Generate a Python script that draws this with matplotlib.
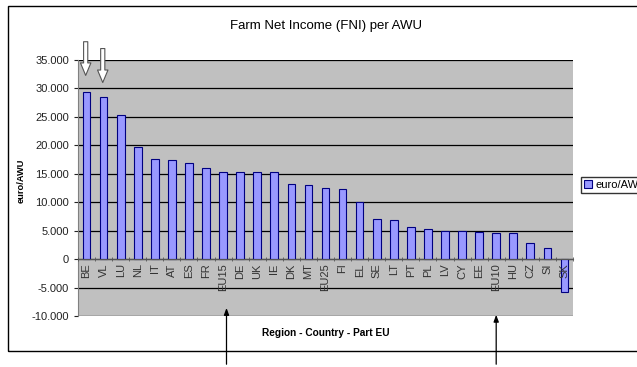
import numpy as np
import matplotlib
matplotlib.use('Agg')
import matplotlib.pyplot as plt
from matplotlib.patches import Rectangle
from matplotlib.ticker import FuncFormatter

plt.rcParams['font.family'] = ['Liberation Sans', 'DejaVu Sans']

# 数据
regions = ['BE', 'VL', 'LU', 'NL', 'IT', 'AT', 'ES', 'FR', 'EU15', 'DE', 'UK', 'IE',
           'DK', 'MT', 'EU25', 'FI', 'EL', 'SE', 'LT', 'PT', 'PL', 'LV', 'CY', 'EE',
           'EU10', 'HU', 'CZ', 'SI', 'SK']
fni = [29350, 28450, 25300, 19650, 17650, 17450, 16950, 15950, 15400, 15350, 15250, 15250,
       13200, 12950, 12450, 12400, 10100, 7000, 6800, 5600, 5250, 5000, 4950, 4750,
       4600, 4550, 2800, 1950, -5750]
# 标注箭头: 白色向下 (箭尖, 箭尾), 黑色向上 (箭尖)
arrow_down = {'BE': (31800, 38700), 'VL': (30550, 37500)}
arrow_up = {'EU15': -8100, 'EU10': -9300}

fig = plt.figure(figsize=(6.37, 3.67), dpi=100)
fig.patch.set_facecolor('white')

# 图表外框
fig.patches.append(Rectangle((8 / 637, (367 - 351) / 367), 1.0, (351 - 6) / 367,
                             transform=fig.transFigure, fill=False,
                             edgecolor='black', linewidth=1.0, zorder=0))

ax = fig.add_axes([78 / 637, (367 - 316) / 367, 495 / 637, 256 / 367])
ax.set_facecolor('#c0c0c0')

x = np.arange(len(regions))
ax.bar(x, fni, width=0.45, color='#9999ff', edgecolor='#000080',
       linewidth=0.8, zorder=3, label='euro/AWU')

ax.set_xlim(-0.5, len(regions) - 0.5)
ax.set_ylim(-10000, 35000)
ax.set_yticks(np.arange(-10000, 35001, 5000))
ax.yaxis.set_major_formatter(FuncFormatter(lambda v, p: f"{int(v):,}".replace(',', '.')))
ax.yaxis.grid(True, color='black', linewidth=0.9, zorder=1)
ax.tick_params(axis='y', labelsize=8, length=3, colors='#222222', width=0.8)

for s in ['top', 'right']:
    ax.spines[s].set_visible(False)
ax.spines['left'].set_color('#808080')
ax.spines['bottom'].set_position(('data', 0))
ax.spines['bottom'].set_color('#555555')
ax.spines['bottom'].set_zorder(4)

# x 轴刻度在类别之间，标签在 0 线下方
ax.set_xticks(x)
ax.set_xticklabels(regions, rotation=90, fontsize=8, color='#333333')
ax.tick_params(axis='x', length=0, pad=3)
ax.set_xticks(np.arange(-0.5, len(regions), 1), minor=True)
ax.tick_params(axis='x', which='minor', length=3, direction='inout', color='#555555')
ax.xaxis.set_zorder(4)

ax.set_title('Farm Net Income (FNI) per AWU', fontsize=9.5, pad=22)
ax.set_ylabel('euro/AWU', fontsize=6.7, fontweight='bold')
ax.yaxis.set_label_coords(-0.105, 0.527)
fig.text(326 / 637, (367 - 333) / 367, 'Region - Country - Part EU', fontsize=7.3,
         fontweight='bold', ha='center', va='center')

# 图例（与原图一样被右边裁切）
ax.legend(loc='center left', bbox_to_anchor=(581 / 637, (367 - 185) / 367),
          bbox_transform=fig.transFigure, fontsize=8, frameon=True, fancybox=False,
          edgecolor='black', handlelength=0.7, handleheight=0.7, handletextpad=0.3,
          borderpad=0.3, borderaxespad=0)

for i, name in enumerate(regions):
    if name in arrow_down:
        tip, tail = arrow_down[name]
        ax.annotate('', xy=(i - 0.05, tip), xytext=(i - 0.05, tail),
                    annotation_clip=False,
                    arrowprops=dict(arrowstyle='simple,head_width=0.75,head_length=0.9,tail_width=0.3',
                                    facecolor='white', edgecolor='#555555', linewidth=0.8))
    if name in arrow_up:
        xa = i + 0.2 if name == 'EU15' else i
        ax.annotate('', xy=(xa, arrow_up[name]), xytext=(xa, 0),
                    textcoords=('data', 'figure fraction'), annotation_clip=False,
                    arrowprops=dict(arrowstyle='-|>,head_width=0.15,head_length=0.4',
                                    color='black', linewidth=0.9))

fig.savefig('out.png', dpi=100)
